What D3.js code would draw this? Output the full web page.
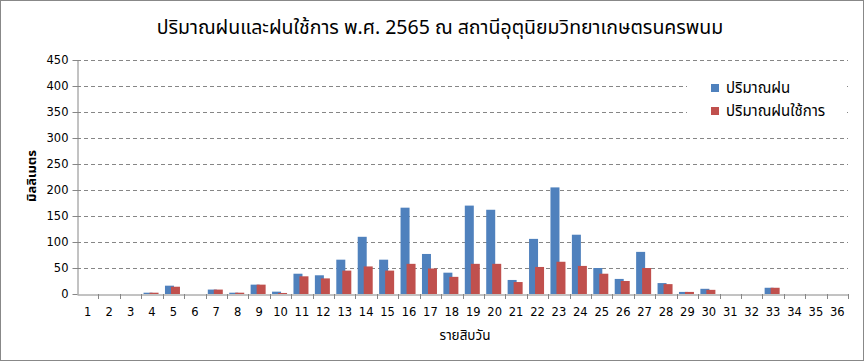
<!DOCTYPE html>
<html><head><meta charset="utf-8">
<script src="https://cdn.jsdelivr.net/npm/d3@7"></script>
<style>
html,body{margin:0;padding:0;background:#fff;}
svg text{font-family:"Noto Sans Thai","Tahoma","DejaVu Sans",sans-serif;}
</style></head>
<body>
<svg id="c" width="864" height="361"></svg>
<script>
const categories = d3.range(1, 37).map(String);
const rain = [0,0,0,2.5,16,0,8.5,2.5,18,4.5,39,36,66,110,66,166,77,41,170,162,27,106,205,114,50,29,81,21,4,10,0,0,12,0,0,0];
const effRain = [0,0,0,2.5,14,0,8.5,2.5,18,2,34,30,45,53,45,58,49,33,58,58,23,52,62,54,39,25,50,19,4,8,0,0,12,0,0,0];
const yTicks = [0,50,100,150,200,250,300,350,400,450];
const seriesNames = ["ปริมาณฝน","ปริมาณฝนใช้การ"];
const colors = ["#4F81BD","#C0504D"];
const title = "ปริมาณฝนและฝนใช้การ พ.ศ. 2565 ณ สถานีอุตุนิยมวิทยาเกษตรนครพนม";
const xTitle = "รายสิบวัน";
const yTitle = "มิลลิเมตร";

const svg = d3.select("#c");
const W = 864, H = 361;
const L = 77, R = 848, T = 60, B = 294;
svg.append("rect").attr("x",0.5).attr("y",0.5).attr("width",W-1).attr("height",H-1)
  .attr("fill","#fff").attr("stroke","#888");

const x = d3.scaleBand().domain(categories).range([L,R]).padding(0);
const y = d3.scaleLinear().domain([0,450]).range([B,T]);

// gridlines
svg.append("g").selectAll("line").data(yTicks.filter(d=>d>0)).join("line")
  .attr("x1",L).attr("x2",R).attr("y1",d=>Math.round(y(d))+0.5).attr("y2",d=>Math.round(y(d))+0.5)
  .attr("stroke","#868686").attr("stroke-dasharray","4,3");

// bars
const bw = x.bandwidth();
const barW = 9, off0 = 2.3, off1 = 8.3;
[rain, effRain].forEach((vals, si) => {
  svg.append("g").selectAll("rect").data(vals).join("rect")
    .attr("x",(d,i)=>x(categories[i]) + (si===0?off0:off1))
    .attr("width",barW)
    .attr("y",d=>y(d))
    .attr("height",d=>B - y(d))
    .attr("fill",colors[si]);
});

// legend (white box)
svg.append("rect").attr("x",687).attr("y",68).attr("width",160).attr("height",60).attr("fill","#fff");
seriesNames.forEach((n,i)=>{
  const cy = 88 + i*23;
  svg.append("rect").attr("x",711).attr("y",cy-4).attr("width",8).attr("height",8).attr("fill",colors[i]);
  svg.append("text").attr("x",726).attr("y",cy).attr("dominant-baseline","central")
    .attr("font-size",15).attr("fill","#000").text(n);
});

// y axis
const yAxis = svg.append("g").attr("transform",`translate(${L+0.5},0)`)
  .call(d3.axisLeft(y).tickValues(yTicks).tickSize(5).tickSizeOuter(0).tickPadding(4));
yAxis.select(".domain").attr("stroke","#868686");
yAxis.selectAll(".tick line").attr("stroke","#868686");
yAxis.selectAll(".tick text").attr("font-size",11.5).attr("fill","#000").style("font-family","'DejaVu Sans',sans-serif");

// x axis
const xAxis = svg.append("g").attr("transform",`translate(0,${B+0.5})`)
  .call(d3.axisBottom(x).tickSize(0).tickPadding(13));
xAxis.select(".domain").attr("stroke","#868686");
xAxis.selectAll(".tick text").attr("font-size",11.5).attr("fill","#000").style("font-family","'DejaVu Sans',sans-serif");
svg.append("g").selectAll("line").data(categories).join("line")
  .attr("x1",(d,i)=>Math.round(x(d)+bw)+0.5).attr("x2",(d,i)=>Math.round(x(d)+bw)+0.5)
  .attr("y1",B).attr("y2",B+5).attr("stroke","#868686");

// titles
svg.append("text").attr("x",440).attr("y",28).attr("text-anchor","middle").attr("dominant-baseline","central")
  .attr("font-size",19.5).attr("fill","#000").text(title);
svg.append("text").attr("x",465).attr("y",336).attr("text-anchor","middle").attr("dominant-baseline","central")
  .attr("font-size",13.5).attr("fill","#000").text(xTitle);
svg.append("text").attr("transform","translate(32,176) rotate(-90)").attr("text-anchor","middle").attr("dominant-baseline","central")
  .attr("font-size",13).attr("font-weight","bold").attr("fill","#000").text(yTitle);
</script>
</body></html>
